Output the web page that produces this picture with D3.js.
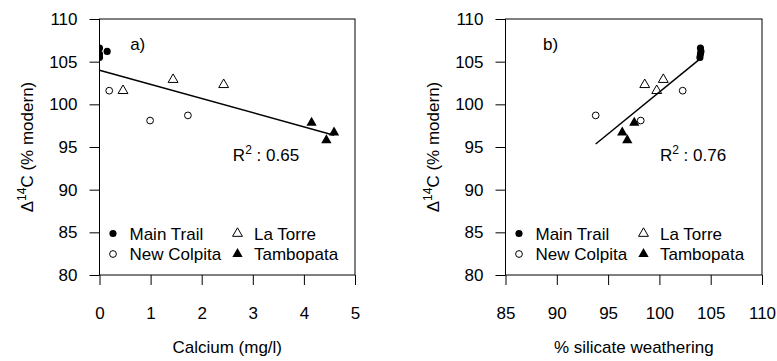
<!DOCTYPE html>
<html>
<head>
<meta charset="utf-8">
<script src="https://cdn.jsdelivr.net/npm/d3@7"></script>
<style>
  body { margin: 0; background: #fff; }
  svg text { font-family: "Liberation Sans", Arial, sans-serif; fill: #000; }
</style>
</head>
<body>
<div id="chart"></div>
<script>
// Two scatter panels: D14C vs calcium, D14C vs % silicate weathering

const width = 777;
const height = 361;

const groups = ['Main Trail', 'New Colpita', 'La Torre', 'Tambopata'];

// D14C (% modern) per sample, same samples in both panels
const c14MainTrail = [106.6, 106.2, 105.9, 105.5];
const c14NewColpita = [101.6, 98.1, 98.7];
const c14LaTorre = [101.6, 102.9, 102.3];
const c14Tambopata = [97.85, 95.8, 96.7];

// Calcium (mg/l)
const caMainTrail = [0.0, 0.15, 0.0, 0.0];
const caNewColpita = [0.19, 0.99, 1.73];
const caLaTorre = [0.46, 1.44, 2.43];
const caTambopata = [4.15, 4.44, 4.59];

// % silicate weathering
const silMainTrail = [104.0, 104.05, 104.0, 103.95];
const silNewColpita = [102.27, 98.18, 93.79];
const silLaTorre = [99.74, 100.38, 98.57];
const silTambopata = [97.55, 96.87, 96.38];

// linear fits [intercept, slope]
const fitCalcium = [104.0, -1.66];
const fitSilicate = [3.44, 0.98];

const yTicks = [80, 85, 90, 95, 100, 105, 110];
const xTicksCalcium = [0, 1, 2, 3, 4, 5];
const xTicksSilicate = [85, 90, 95, 100, 105, 110];

const svg = d3.select('#chart')
    .append('svg')
    .attr('width', width)
    .attr('height', height);

const plotTop = 19, plotBottom = 275;
const y = d3.scaleLinear().domain([80, 110]).range([plotBottom, plotTop]);

// marker style per group
const markers = [
    { type: d3.symbolCircle, size: 40, fill: '#000', stroke: 'none' },
    { type: d3.symbolCircle, size: 36, fill: 'none', stroke: '#000' },
    { type: d3.symbolTriangle, size: 42, fill: 'none', stroke: '#000' },
    { type: d3.symbolTriangle, size: 46, fill: '#000', stroke: 'none' }
];

function drawPanel(opt) {
    const x = d3.scaleLinear().domain(opt.domain).range(opt.range);
    const g = svg.append('g');
    const clipId = 'clip-' + opt.tag;

    svg.append('defs').append('clipPath').attr('id', clipId)
        .append('rect')
        .attr('x', opt.range[0]).attr('y', plotTop)
        .attr('width', opt.range[1] - opt.range[0]).attr('height', plotBottom - plotTop);

    // box
    g.append('rect')
        .attr('x', opt.range[0]).attr('y', plotTop)
        .attr('width', opt.range[1] - opt.range[0]).attr('height', plotBottom - plotTop)
        .attr('fill', 'none').attr('stroke', '#000').attr('stroke-width', 1);

    // y axis
    const yAxis = g.append('g').attr('transform', `translate(${opt.range[0]},0)`)
        .call(d3.axisLeft(y).tickValues(yTicks).tickFormat(d3.format('d')).tickSize(10).tickPadding(12));
    // x axis
    const xAxis = g.append('g').attr('transform', `translate(0,${plotBottom})`)
        .call(d3.axisBottom(x).tickValues(opt.ticks).tickFormat(d3.format('d')).tickSize(10).tickPadding(22));
    [yAxis, xAxis].forEach(a => {
        a.select('.domain').remove();
        a.selectAll('line').attr('stroke', '#000');
        a.selectAll('text').attr('font-size', '17px')
            .style('font-family', '"Liberation Sans", Arial, sans-serif');
    });

    // axis titles
    g.append('text')
        .attr('x', (opt.range[0] + opt.range[1]) / 2)
        .attr('y', 353)
        .attr('text-anchor', 'middle')
        .attr('font-size', '17px')
        .text(opt.title);

    const yl = g.append('text')
        .attr('transform', `translate(${opt.range[0] - 67},${(plotTop + plotBottom) / 2}) rotate(-90)`)
        .attr('text-anchor', 'middle')
        .attr('font-size', '17px');
    yl.append('tspan').text('\u0394');
    yl.append('tspan').attr('font-size', '12px').attr('dy', -7).text('14');
    yl.append('tspan').attr('dy', 7).text('C (% modern)');

    // fit line over data extent
    const allX = opt.series.flat();
    const ext = d3.extent(allX);
    g.append('line')
        .attr('x1', x(ext[0])).attr('y1', y(opt.fit[0] + opt.fit[1] * ext[0]))
        .attr('x2', x(ext[1])).attr('y2', y(opt.fit[0] + opt.fit[1] * ext[1]))
        .attr('stroke', '#000').attr('stroke-width', 1.5);

    // points
    const pts = g.append('g').attr('clip-path', `url(#${clipId})`);
    const c14 = [c14MainTrail, c14NewColpita, c14LaTorre, c14Tambopata];
    opt.series.forEach((xs, i) => {
        const m = markers[i];
        pts.selectAll(null)
            .data(xs.map((v, j) => [v, c14[i][j]]))
            .enter()
            .append('path')
            .attr('d', d3.symbol().type(m.type).size(m.size))
            .attr('transform', d => `translate(${x(d[0])},${y(d[1])})`)
            .attr('fill', m.fill)
            .attr('stroke', m.stroke)
            .attr('stroke-width', 1);
    });

    // panel label
    g.append('text')
        .attr('x', x(opt.labelPos[0])).attr('y', y(opt.labelPos[1]))
        .attr('font-size', '17px')
        .text(opt.label);

    // R2 text
    const r = g.append('text')
        .attr('x', x(opt.r2Pos[0])).attr('y', y(opt.r2Pos[1]))
        .attr('font-size', '17px');
    r.append('tspan').text('R');
    r.append('tspan').attr('font-size', '12px').attr('dy', -7).text('2');
    r.append('tspan').attr('dy', 7).text(' : ' + opt.r2);

    // legend
    const lx = opt.range[0];
    const rows = [233.5, 254];
    groups.forEach((name, i) => {
        const col = i === 0 || i === 1 ? 0 : 1;
        const row = i === 0 || i === 2 ? 0 : 1;
        const mx = lx + (col ? 138 : 13.5);
        const m = markers[i];
        g.append('path')
            .attr('d', d3.symbol().type(m.type).size(m.size))
            .attr('transform', `translate(${mx},${rows[row]})`)
            .attr('fill', m.fill)
            .attr('stroke', m.stroke)
            .attr('stroke-width', 1);
        g.append('text')
            .attr('x', mx + 16.5)
            .attr('y', rows[row] + 6)
            .attr('font-size', '17px')
            .text(name);
    });
}

drawPanel({
    tag: 'a',
    domain: [0, 5],
    range: [99.5, 355],
    ticks: xTicksCalcium,
    title: 'Calcium (mg/l)',
    series: [caMainTrail, caNewColpita, caLaTorre, caTambopata],
    fit: fitCalcium,
    label: 'a)',
    labelPos: [0.6, 106.35],
    r2: '0.65',
    r2Pos: [2.61, 93.35]
});

drawPanel({
    tag: 'b',
    domain: [85, 110],
    range: [505.5, 762],
    ticks: xTicksSilicate,
    title: '% silicate weathering',
    series: [silMainTrail, silNewColpita, silLaTorre, silTambopata],
    fit: fitSilicate,
    label: 'b)',
    labelPos: [88.65, 106.35],
    r2: '0.76',
    r2Pos: [100.05, 93.35]
});
</script>
</body>
</html>
